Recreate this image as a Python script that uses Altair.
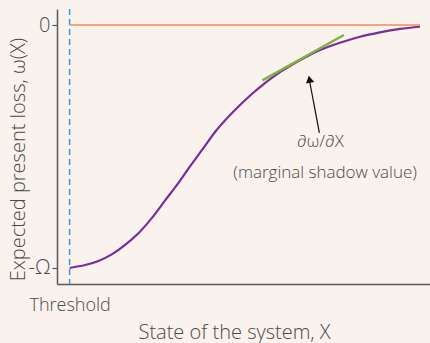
import altair as alt
import pandas as pd

# Expected present loss curve: state of the system X vs. omega(X) (in units of Omega)
curve_x = [0.0, 0.43, 0.80, 1.17, 1.54, 1.91, 2.28, 2.65, 3.02, 3.34, 3.71, 4.08,
           4.54, 5.01, 5.42, 5.79, 6.16, 6.53, 6.95, 7.50, 8.06, 8.61, 9.17, 9.72]
curve_y = [-1.0, -0.988, -0.971, -0.944, -0.905, -0.857, -0.795, -0.722, -0.650, -0.582,
           -0.507, -0.432, -0.357, -0.290, -0.239, -0.199, -0.165, -0.134, -0.103, -0.073,
           -0.048, -0.030, -0.016, -0.007]

# Tangent segment at the marked point (marginal shadow value)
tangent_x = [5.35, 7.61]
tangent_y = [-0.228, -0.041]

# Zero-loss reference level
zero_x = [0.0]
zero_x2 = [9.72]
zero_y = [0.0]

# Threshold position
threshold_x = [0.0]

# Arrow pointing at the tangent (tail -> tip)
arrow_x = [6.93]
arrow_y = [-0.444]
arrow_x2 = [6.64]
arrow_y2 = [-0.215]
head_x = [6.655]
head_y = [-0.223]

# Annotation text
note_x = [6.96, 7.09]
note_y = [-0.481, -0.609]
note_text = ["∂ω/∂X", "(marginal shadow value)"]

FONT = "Open Sans"
TEXT = "#4a4a4a"
AXIS = "#5a5a5a"

xs = alt.Scale(domain=[-0.35, 10.0], nice=False, zero=False)
ys = alt.Scale(domain=[-1.066, 0.066], nice=False, zero=False)

curve_df = pd.DataFrame({"x": curve_x, "y": curve_y})
tangent_df = pd.DataFrame({"x": tangent_x, "y": tangent_y})
zero_df = pd.DataFrame({"x": zero_x, "x2": zero_x2, "y": zero_y})
thr_df = pd.DataFrame({"x": threshold_x})
arrow_df = pd.DataFrame({"x": arrow_x, "y": arrow_y, "x2": arrow_x2, "y2": arrow_y2})
head_df = pd.DataFrame({"x": head_x, "y": head_y})
note_df = pd.DataFrame({"x": note_x, "y": note_y, "t": note_text})

x_axis = alt.Axis(
    title="State of the system, X",
    values=[0],
    labelExpr="'Threshold'",
    tickSize=0,
    labelPadding=12,
    labelFontSize=18,
    labelFontWeight=300,
    labelColor=TEXT,
    labelFont=FONT,
    titleFontSize=20,
    titleFont=FONT,
    titleFontWeight=300,
    titleColor=TEXT,
    titleX=177,
    titleY=54,
    titleAlign="center",
    titleBaseline="alphabetic",
    domainColor=AXIS,
    domainWidth=1.5,
    grid=False,
)

y_axis = alt.Axis(
    title="Expected present loss, ω(X)",
    values=[-1, 0],
    labelExpr="datum.value == 0 ? '0' : '-Ω'",
    tickSize=5,
    tickColor=AXIS,
    tickWidth=1.2,
    labelPadding=2,
    labelFontSize=20,
    labelFontWeight=300,
    labelColor=TEXT,
    labelFont=FONT,
    titleFontSize=20,
    titleFont=FONT,
    titleFontWeight=300,
    titleColor=TEXT,
    titleAngle=-90,
    titleX=-33,
    titleY=150,
    titleAlign="center",
    titleBaseline="alphabetic",
    domainColor=AXIS,
    domainWidth=1.5,
    grid=False,
)

threshold = alt.Chart(thr_df).mark_rule(
    color="#3d9ad6", strokeDash=[6, 4], strokeWidth=1.5
).encode(x=alt.X("x:Q", scale=xs, axis=x_axis))

zero_line = alt.Chart(zero_df).mark_rule(color="#f08a5d", strokeWidth=1.5).encode(
    x=alt.X("x:Q", scale=xs), x2="x2:Q", y=alt.Y("y:Q", scale=ys, axis=y_axis)
)

curve = alt.Chart(curve_df).mark_line(
    color="#7a2e9c", strokeWidth=2.2, interpolate="catmull-rom"
).encode(x=alt.X("x:Q", scale=xs), y=alt.Y("y:Q", scale=ys))

tangent = alt.Chart(tangent_df).mark_line(color="#7cb342", strokeWidth=2.5).encode(
    x=alt.X("x:Q", scale=xs), y=alt.Y("y:Q", scale=ys)
)

arrow = alt.Chart(arrow_df).mark_rule(color="#111111", strokeWidth=1.2).encode(
    x=alt.X("x:Q", scale=xs), y=alt.Y("y:Q", scale=ys), x2="x2:Q", y2="y2:Q"
)

head = alt.Chart(head_df).mark_point(
    shape="triangle-up", filled=True, color="#111111", size=70, angle=349.6, opacity=1
).encode(x=alt.X("x:Q", scale=xs), y=alt.Y("y:Q", scale=ys))

notes = alt.Chart(note_df).mark_text(
    font=FONT, fontSize=17, fontWeight=300, color=TEXT, align="center", baseline="middle"
).encode(x=alt.X("x:Q", scale=xs), y=alt.Y("y:Q", scale=ys), text="t:N")

chart = (
    alt.layer(threshold, zero_line, curve, tangent, arrow, head, notes)
    .properties(
        width=373,
        height=275,
        autosize=alt.AutoSizeParams(type="none"),
        padding={"left": 57, "top": 9, "right": 0, "bottom": 59},
        background="#f9f2ed",
    )
    .configure_view(stroke=None)
)

chart.save("out.html", embed_options={"renderer": "svg", "actions": False})
